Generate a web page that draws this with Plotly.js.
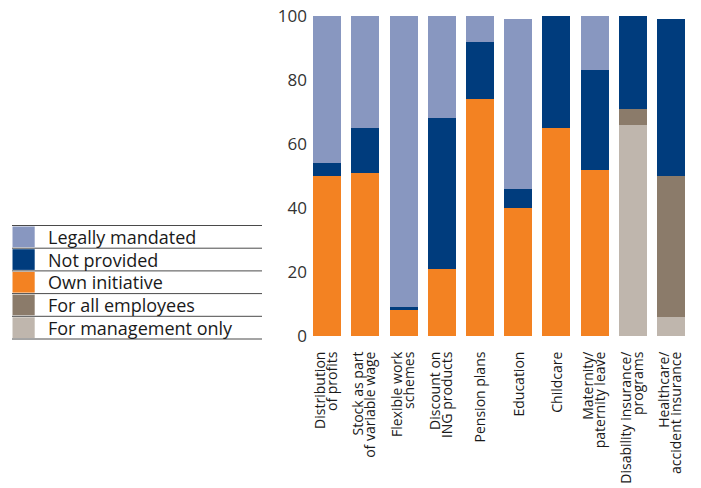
<!DOCTYPE html>
<html>
<head>
<meta charset="utf-8">
<script src="https://cdn.plot.ly/plotly-3.0.1.min.js"></script>
<style>html,body{margin:0;padding:0;background:#fff;}#chart{width:701px;height:488px;}</style>
</head>
<body>
<div id="chart"></div>
<script>
const categories = [
  "Distribution<br>of profits",
  "Stock as part<br>of variable wage",
  "Flexible work<br>schemes",
  "Discount on<br>ING products",
  "Pension plans",
  "Education",
  "Childcare",
  "Maternity/<br>paternity leave",
  "Disability insurance/<br>programs",
  "Healthcare/<br>accident insurance"
];
const forManagementOnly = [0, 0, 0, 0, 0, 0, 0, 0, 66, 6];
const forAllEmployees   = [0, 0, 0, 0, 0, 0, 0, 0, 5, 44];
const ownInitiative     = [50, 51, 8, 21, 74, 40, 65, 52, 0, 0];
const notProvided       = [4, 14, 1, 47, 18, 6, 35, 31, 29, 49];
const legallyMandated   = [46, 35, 91, 32, 8, 53, 0, 17, 0, 0];
const seriesNames = ["Legally mandated", "Not provided", "Own initiative", "For all employees", "For management only"];
const yTicks = [0, 20, 40, 60, 80, 100];

const colors = {
  "Legally mandated": "#8897C0",
  "Not provided": "#003C7D",
  "Own initiative": "#F38222",
  "For all employees": "#8B7B6A",
  "For management only": "#BFB6AD"
};
const seriesData = {
  "Legally mandated": legallyMandated,
  "Not provided": notProvided,
  "Own initiative": ownInitiative,
  "For all employees": forAllEmployees,
  "For management only": forManagementOnly
};
// stacking order bottom -> top
const stackOrder = ["For management only", "For all employees", "Own initiative", "Not provided", "Legally mandated"];
const traces = stackOrder.map(n => ({
  type: "bar", name: n, x: categories, y: seriesData[n],
  marker: {color: colors[n], line: {width: 0}},
  showlegend: false, hoverinfo: "name+y"
}));
// empty helper traces so the label axes get drawn
["x2", "x3", "x4"].forEach(ax => traces.push({type: "scatter", mode: "markers", x: [], y: [], xaxis: ax, yaxis: "y", showlegend: false, hoverinfo: "skip"}));

// plot area geometry
const W = 701, H = 488;
const M = {l: 308, r: 11, t: 16, b: 152};
const pw = W - M.l - M.r, ph = H - M.t - M.b;
const px2x = px => (px - M.l) / pw;
const py2y = py => (H - M.b - py) / ph;
const catW = pw / categories.length;

// custom legend
const shapes = [], annotations = [];
const lineYs = [225.5, 248.2, 270.9, 293.6, 316.3, 339];
const legX0 = 12, legX1 = 262, swX1 = 34.7;
lineYs.forEach(py => shapes.push({type: "line", xref: "paper", yref: "paper",
  x0: px2x(legX0), x1: px2x(legX1), y0: py2y(py), y1: py2y(py),
  line: {color: "#4a4a4a", width: 1}}));
seriesNames.forEach((n, i) => {
  const top = lineYs[i] + 1, bot = lineYs[i + 1] - 1;
  shapes.push({type: "rect", xref: "paper", yref: "paper",
    x0: px2x(legX0 + 0.5), x1: px2x(swX1), y0: py2y(bot), y1: py2y(top),
    fillcolor: colors[n], line: {width: 0}});
  annotations.push({xref: "paper", yref: "paper", x: px2x(46), y: py2y((lineYs[i] + lineYs[i + 1]) / 2),
    xanchor: "left", yanchor: "middle", showarrow: false, text: n,
    font: {family: "Open Sans", size: 18, color: "#1a1a1a"}});
});

// tick label lines split into separate axes for tighter line spacing
const idx = categories.map((c, i) => i);
const parts = categories.map(c => c.split("<br>"));
const singleIdx = idx.filter(i => parts[i].length === 1);
const multiIdx = idx.filter(i => parts[i].length > 1);
const tickFont = {family: "Open Sans", size: 14, color: "#1a1a1a"};
function labelAxis(vals, texts, shiftPx) {
  return {overlaying: "x", anchor: "y", side: "bottom", type: "linear", range: [-0.5, categories.length - 0.5],
    tickmode: "array", tickvals: vals.map(v => v + shiftPx / catW), ticktext: texts, tickangle: -90,
    showgrid: false, zeroline: false, showline: false,
    ticks: "outside", ticklen: 9, tickcolor: "rgba(0,0,0,0)", tickfont: tickFont};
}

const layout = {
  width: W, height: H,
  margin: M,
  paper_bgcolor: "#fff", plot_bgcolor: "#fff",
  barmode: "stack", bargap: 0.267,
  showlegend: false,
  xaxis: {type: "category", showticklabels: false, showgrid: false, zeroline: false, showline: false, ticks: ""},
  xaxis2: labelAxis(singleIdx, singleIdx.map(i => parts[i][0]), 1),
  xaxis3: labelAxis(multiIdx, multiIdx.map(i => parts[i][0]), -6.5),
  xaxis4: labelAxis(multiIdx, multiIdx.map(i => parts[i][1]), 5.5),
  yaxis: {range: [0, 100], tickvals: yTicks, showgrid: false, zeroline: false, showline: false,
    ticks: "", tickfont: {family: "Open Sans", size: 17, color: "#333"}},
  shapes: shapes, annotations: annotations
};
Plotly.newPlot("chart", traces, layout, {displayModeBar: false, staticPlot: true});
</script>
</body>
</html>
